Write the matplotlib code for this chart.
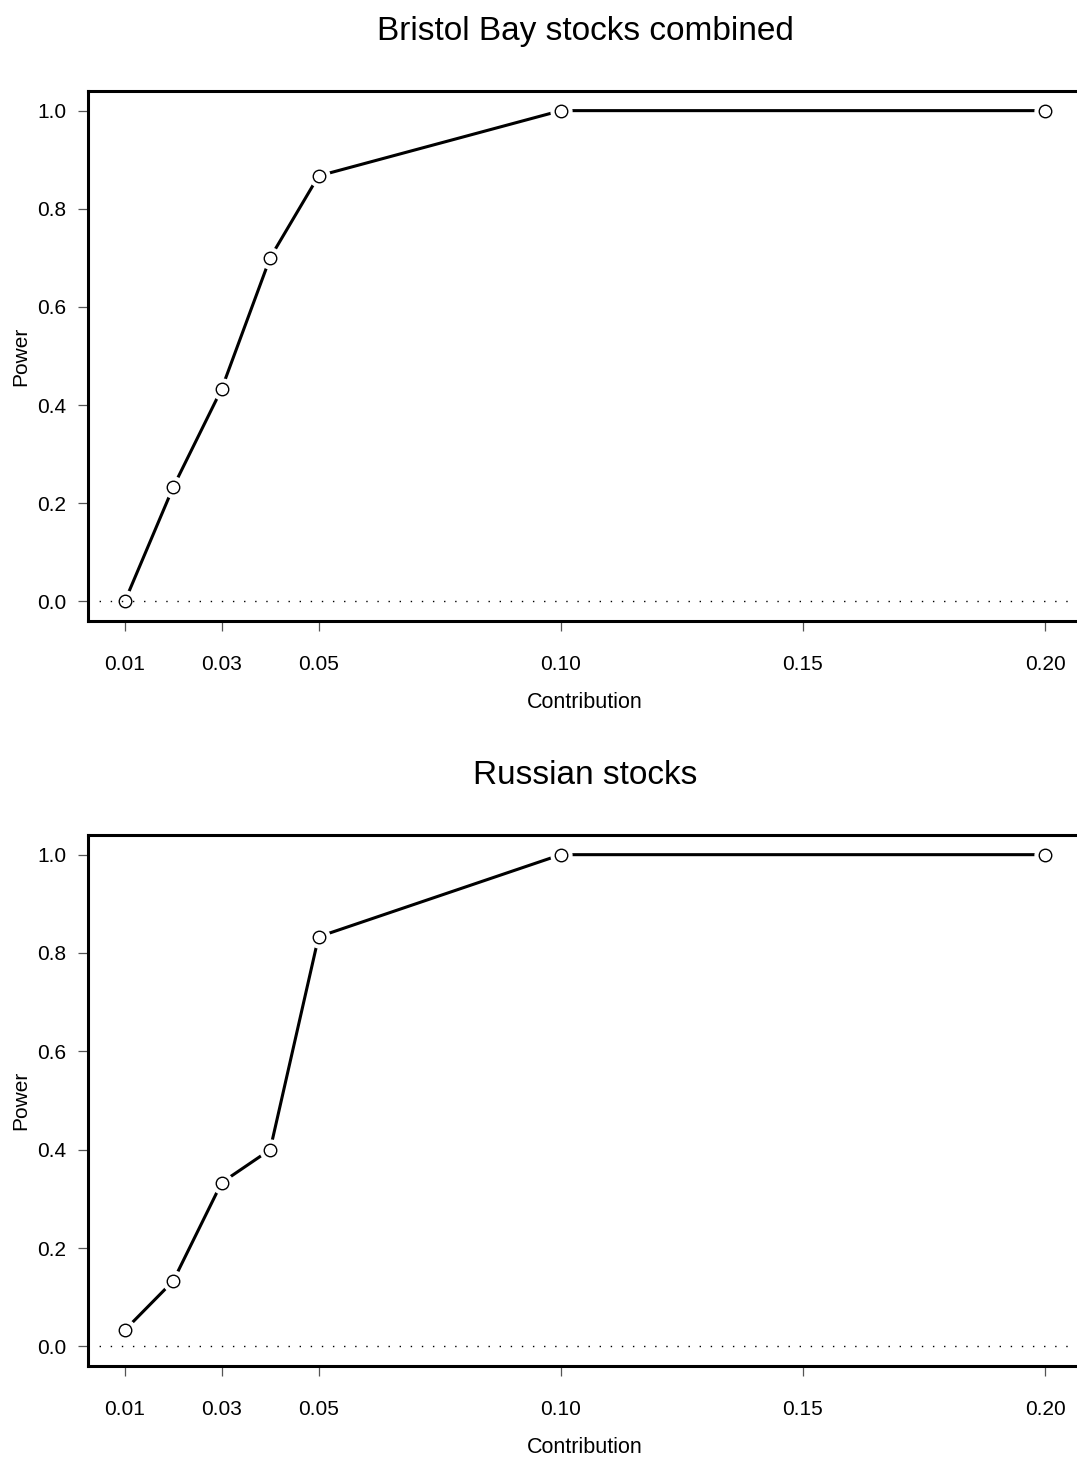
import numpy as np
import matplotlib.pyplot as plt

plt.rcParams['font.family'] = ['Liberation Sans', 'DejaVu Sans']

contribution = [0.01, 0.02, 0.03, 0.04, 0.05, 0.10, 0.20]
power_bristol = [0.0, 0.233, 0.433, 0.700, 0.867, 1.0, 1.0]
power_russian = [0.033, 0.133, 0.333, 0.400, 0.833, 1.0, 1.0]
titles = ['Bristol Bay stocks combined', 'Russian stocks']
xticks = [0.01, 0.03, 0.05, 0.10, 0.15, 0.20]
xticklabels = ['0.01', '0.03', '0.05', '0.10', '0.15', '0.20']
yticks = [0.0, 0.2, 0.4, 0.6, 0.8, 1.0]

W, H = 1077, 1458
fig = plt.figure(figsize=(W / 100, H / 100), dpi=100)

# axes boxes in pixels: left, top, right, bottom (right runs past the image edge)
boxes = [(88, 91, 1082, 621), (88, 835, 1082, 1366)]
series = [power_bristol, power_russian]

for (l, t, r, b), y, title in zip(boxes, series, titles):
    ax = fig.add_axes([l / W, 1 - b / H, (r - l) / W, (b - t) / H])
    pad = (0.20 - 0.01) * 0.04
    ax.set_xlim(0.01 - pad, 0.20 + pad)
    ax.set_ylim(-0.04, 1.04)

    ax.plot(contribution, y, color='black', lw=2.2, zorder=2)
    # white disc to leave gaps around points like R type="b"
    ax.plot(contribution, y, 'o', ms=15, mfc='white', mec='white', zorder=3)
    ax.axhline(0, color='black', lw=1, linestyle=(0, (1, 7)), zorder=4)
    ax.plot(contribution, y, 'o', ms=9, mfc='none', mec='black', mew=1, zorder=5)

    for s in ax.spines.values():
        s.set_linewidth(2.2)

    ax.set_xticks(xticks)
    ax.set_xticklabels(xticklabels)
    ax.set_yticks(yticks)
    ax.set_yticklabels([f'{v:.1f}' for v in yticks])
    ax.tick_params(axis='x', length=7.5, width=0.9, color='#555555', pad=17, labelsize=15)
    ax.tick_params(axis='y', length=7.5, width=0.9, color='#555555', pad=8, labelsize=15)

    ax.set_xlabel('Contribution', fontsize=15.5, labelpad=13)
    ax.set_ylabel('Power', fontsize=15, labelpad=5)
    ax.set_title(title, fontsize=24, pad=37)

fig.savefig('out.png', dpi=100)
